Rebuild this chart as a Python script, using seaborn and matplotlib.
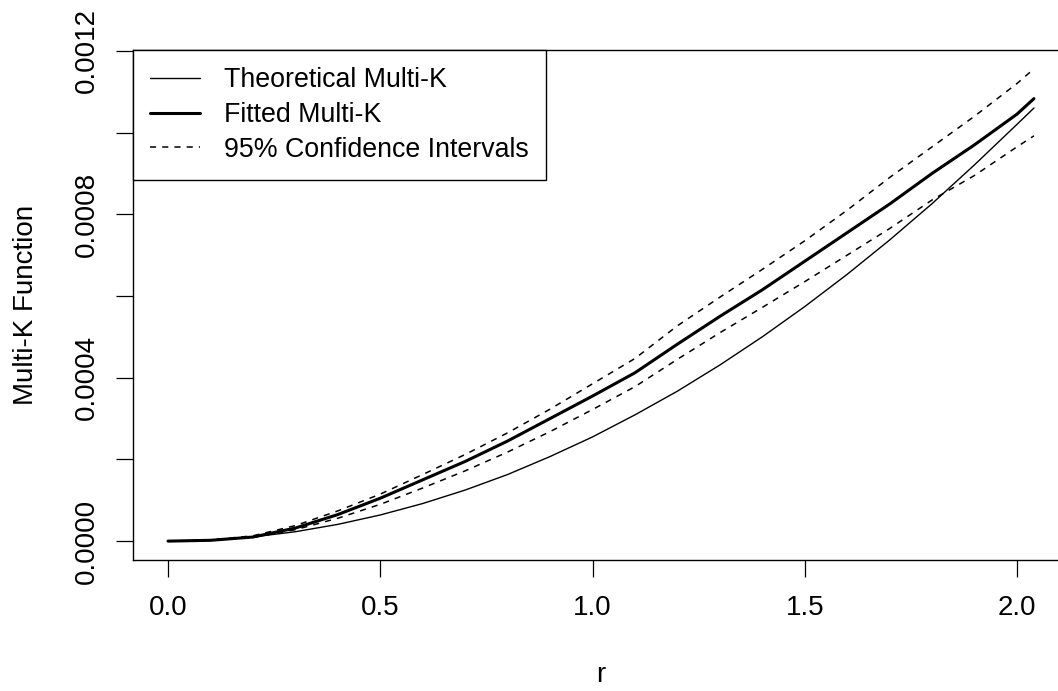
import matplotlib
matplotlib.use("Agg")
import matplotlib.pyplot as plt
import seaborn as sns
import pandas as pd

# values
r = [0.0, 0.1, 0.2, 0.3, 0.4, 0.5, 0.6, 0.7, 0.8, 0.9, 1.0,
     1.1, 1.2, 1.3, 1.4, 1.5, 1.6, 1.7, 1.8, 1.9, 2.0, 2.04]
theoretical = [0.0, 0.0000026, 0.0000102, 0.000023, 0.000041, 0.000064, 0.000092,
               0.000125, 0.000163, 0.000207, 0.000255, 0.000309, 0.000367, 0.000431,
               0.000500, 0.000574, 0.000653, 0.000737, 0.000826, 0.000921, 0.001020,
               0.001060]
fitted = [0.0, 0.000002, 0.000010, 0.000032, 0.000065, 0.000105, 0.000150, 0.000195,
          0.000245, 0.000300, 0.000355, 0.000412, 0.000482, 0.000550, 0.000615,
          0.000685, 0.000755, 0.000825, 0.000900, 0.000970, 0.001045, 0.001083]
upper_ci = [0.0, 0.000003, 0.000013, 0.000038, 0.000074, 0.000115, 0.000163, 0.000212,
            0.000265, 0.000323, 0.000385, 0.000447, 0.000527, 0.000597, 0.000665,
            0.000735, 0.000810, 0.000890, 0.000965, 0.001040, 0.001120, 0.001156]
lower_ci = [0.0, 0.000002, 0.000009, 0.000028, 0.000056, 0.000090, 0.000130, 0.000172,
            0.000218, 0.000268, 0.000322, 0.000378, 0.000445, 0.000510, 0.000572,
            0.000635, 0.000700, 0.000765, 0.000835, 0.000895, 0.000965, 0.000992]

y_ticks = [0.0, 0.0002, 0.0004, 0.0006, 0.0008, 0.0010, 0.0012]
y_tick_labels = ["0.0000", "", "0.0004", "", "0.0008", "", "0.0012"]
x_ticks = [0.0, 0.5, 1.0, 1.5, 2.0]
x_tick_labels = ["0.0", "0.5", "1.0", "1.5", "2.0"]

df = pd.DataFrame({"r": r, "theo": theoretical, "fit": fitted,
                   "up": upper_ci, "lo": lower_ci})

sns.set_style("ticks")
plt.rcParams['font.family'] = ['Liberation Sans', 'DejaVu Sans']
plt.rcParams['font.size'] = 20
plt.rcParams['text.color'] = 'black'
plt.rcParams['axes.labelcolor'] = 'black'
plt.rcParams['xtick.color'] = 'black'
plt.rcParams['ytick.color'] = 'black'

fig = plt.figure(figsize=(10.58, 6.91), dpi=100)
ax = fig.add_axes([133 / 1058, 1 - 560 / 691, (1068.6 - 133) / 1058, 510 / 691])

sns.lineplot(data=df, x="r", y="theo", ax=ax, color="black", linewidth=1.0,
             label="Theoretical Multi-K")
sns.lineplot(data=df, x="r", y="fit", ax=ax, color="black", linewidth=2.2,
             label="Fitted Multi-K")
sns.lineplot(data=df, x="r", y="up", ax=ax, color="black", linewidth=1.1,
             label="95% Confidence Intervals")
sns.lineplot(data=df, x="r", y="lo", ax=ax, color="black", linewidth=1.1)
for ln in ax.lines[2:4]:
    ln.set_dashes((4, 4))

ax.set_xlim(-0.0825, 2.1216)
ax.set_ylim(-0.0000462, 0.001202)
ax.set_xticks(x_ticks)
ax.set_xticklabels(x_tick_labels)
ax.set_yticks(y_ticks)
ax.set_yticklabels(y_tick_labels)
plt.setp(ax.get_yticklabels(), rotation=90, va="center")

for s in ax.spines.values():
    s.set_visible(True)
    s.set_linewidth(1.0)
    s.set_color("black")
ax.tick_params(axis="both", length=12, width=0.9, color="black", labelsize=20)
ax.tick_params(axis="x", pad=13)
ax.tick_params(axis="y", pad=12)

ax.set_xlabel("r", fontsize=20)
ax.set_ylabel("Multi-K Function", fontsize=20)
ax.xaxis.set_label_coords(0.5, -0.2)
ax.yaxis.set_label_coords(-0.101, 0.5)

leg = ax.legend(loc="upper left", borderaxespad=0, fancybox=False, framealpha=1,
                edgecolor="black", fontsize=19.3, handlelength=1.85,
                handletextpad=0.9, borderpad=0.65, labelspacing=0.32)
leg.get_frame().set_linewidth(1.0)
for h in leg.get_lines()[2:3]:
    h.set_dashes((4, 4))

fig.savefig("out.png", dpi=100)
